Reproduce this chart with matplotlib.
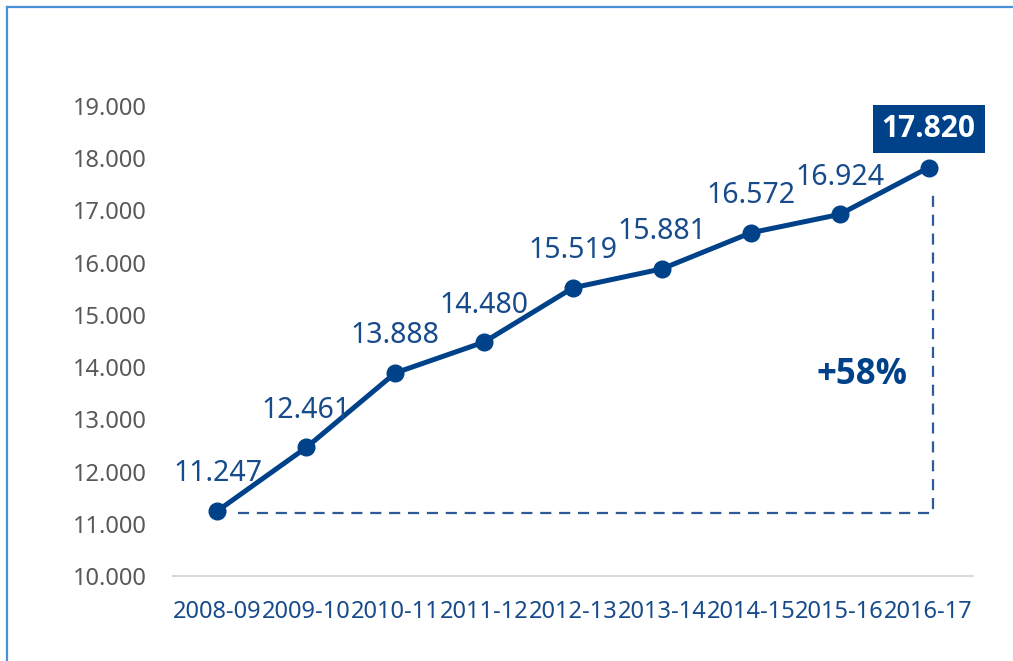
import matplotlib

matplotlib.use("Agg")
import matplotlib.pyplot as plt  # noqa: E402
from matplotlib.lines import Line2D  # noqa: E402

plt.rcParams["font.family"] = ["Noto Sans", "DejaVu Sans"]
BOLD_FAMILY = ["Open Sans", "Roboto", "DejaVu Sans"]

# data
years = ["2008-09", "2009-10", "2010-11", "2011-12", "2012-13",
         "2013-14", "2014-15", "2015-16", "2016-17"]
values = [11.247, 12.461, 13.888, 14.480, 15.519, 15.881, 16.572, 16.924, 17.820]
y_ticks = [10, 11, 12, 13, 14, 15, 16, 17, 18, 19]
growth_label = "+58%"

NAVY = "#00428A"
LABEL = "#174B8B"
DASH = "#2C5B97"
GREY_TXT = "#595959"

fig = plt.figure(figsize=(10.13, 6.61), dpi=100)
ax = fig.add_axes([173 / 1013, 1 - 576 / 661, 800 / 1013, 470 / 661])

x = list(range(len(years)))
ax.plot(x, values, color=NAVY, linewidth=3.6, marker="o", markersize=12,
        solid_capstyle="round", zorder=3, clip_on=False)

# value labels above each point, last one boxed
for i, v in enumerate(values):
    txt = f"{v:.3f}"
    if i == len(values) - 1:
        ax.annotate(txt, (i, v), xytext=(0, 39), textcoords="offset pixels",
                    ha="center", va="center", fontsize=21.5, fontweight="bold",
                    family=BOLD_FAMILY, color="white", zorder=5,
                    bbox=dict(boxstyle="square,pad=0.3", fc=NAVY, ec="none"))
    else:
        ax.annotate(txt, (i, v), xytext=(0, 37), textcoords="offset pixels",
                    ha="center", va="center", fontsize=20.5, color=LABEL, zorder=4)

# dashed bracket from first to last value
x0, x1 = 0.23, len(years) - 1 + 0.05
ax.plot([x0, x1, x1], [values[0] - 0.04, values[0] - 0.04, values[-1] - 0.45],
        color=DASH, linewidth=1.6, linestyle=(0, (5, 3.5)), zorder=2)
ax.text(7.25, 13.85, growth_label, ha="center", va="center",
        fontsize=25, fontweight="bold", family=BOLD_FAMILY, color=NAVY)

ax.set_xlim(-0.5, len(years) - 0.5)
ax.set_ylim(10, 19)
ax.set_yticks(y_ticks)
ax.set_yticklabels([f"{t}.000" for t in y_ticks])
ax.set_xticks(x)
ax.set_xticklabels(years)
ax.tick_params(axis="y", length=0, pad=19, labelsize=17, labelcolor=GREY_TXT)
ax.tick_params(axis="x", length=0, pad=17, labelsize=17, labelcolor=LABEL)
for side in ("top", "right", "left"):
    ax.spines[side].set_visible(False)
ax.spines["bottom"].set_color("#D9D9D9")
ax.spines["bottom"].set_linewidth(1.5)

# blue frame on the left and top edges
fig.add_artist(Line2D([6.5 / 1013, 6.5 / 1013], [0, 1 - 7 / 661],
                      transform=fig.transFigure, color="#4A90D9", linewidth=1.6))
fig.add_artist(Line2D([6.5 / 1013, 1], [1 - 7 / 661, 1 - 7 / 661],
                      transform=fig.transFigure, color="#4A90D9", linewidth=1.6))

fig.savefig("out.png", dpi=100)
